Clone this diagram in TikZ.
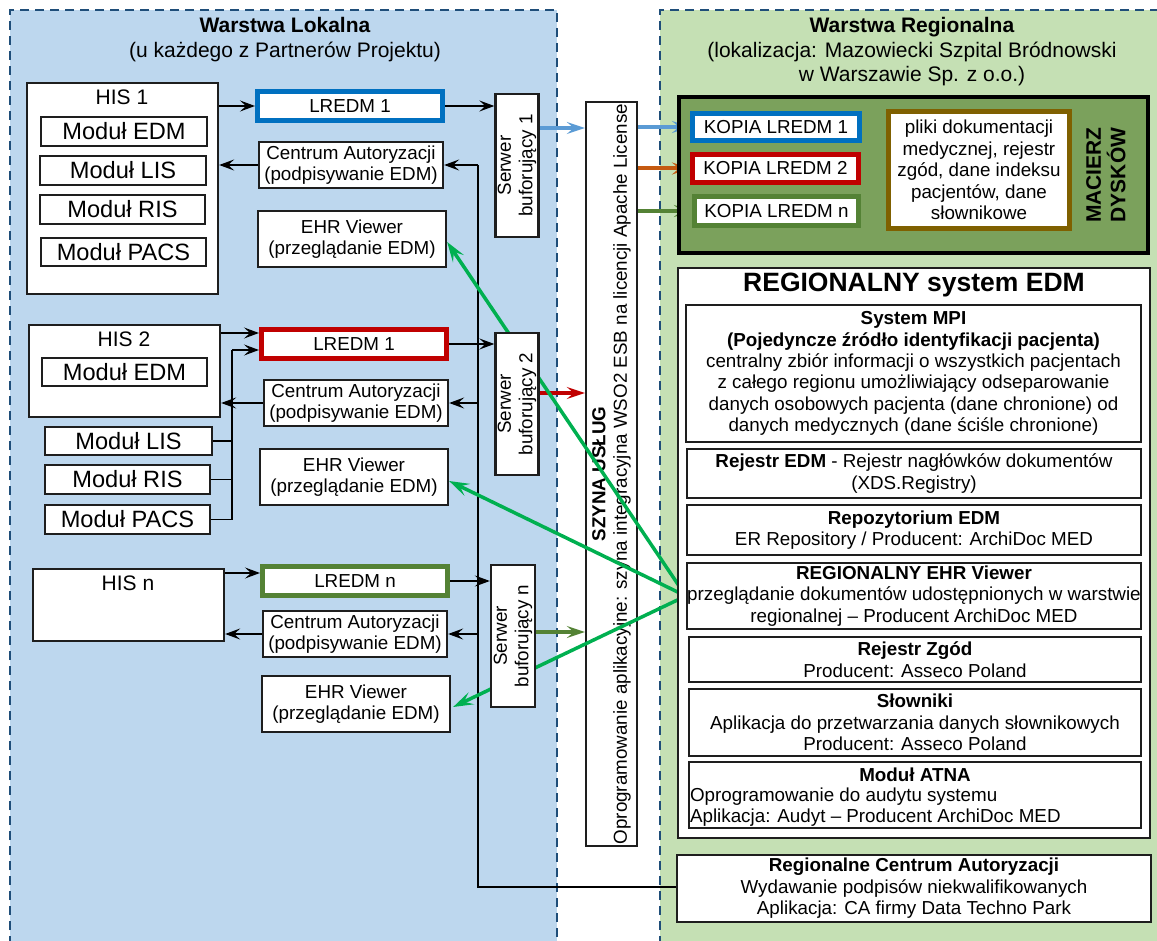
\documentclass[tikz,border=0pt]{standalone}
\usepackage{fontspec}
\setmainfont{Liberation Sans}
\usetikzlibrary{arrows.meta,calc}
\definecolor{bcol}{RGB}{30,30,30}
\definecolor{panB}{RGB}{189,215,238}
\definecolor{panG}{RGB}{197,224,180}
\definecolor{dashc}{RGB}{31,78,121}
\definecolor{lblue}{RGB}{0,112,192}
\definecolor{lred}{RGB}{192,0,0}
\definecolor{lgreen}{RGB}{84,130,53}
\definecolor{ablue}{RGB}{91,155,213}
\definecolor{aorange}{RGB}{197,90,17}
\definecolor{gline}{RGB}{0,176,80}
\definecolor{macf}{RGB}{123,161,92}
\definecolor{brownc}{RGB}{127,96,0}
\pgfdeclarelayer{bg}
\pgfdeclarelayer{lines}
\pgfsetlayers{bg,lines,main}
\newcommand\fn{\fontsize{18.8}{21.4}\selectfont}
\newcommand\fm{\fontsize{23.6}{27}\selectfont}
\newcommand\ft{\fontsize{21}{24.5}\selectfont}
\begin{document}
\begin{tikzpicture}[x=1pt,y=-1pt,
  bx/.style={draw=bcol, line width=2.3pt, fill=white, inner sep=0pt, align=center, font=\fn},
  mod/.style={bx, font=\fm},
  thk/.style={bx, line width=5pt},
  txt/.style={inner sep=0pt, align=center, font=\fn},
  arr/.style={line width=1.6pt, draw=black, -{Stealth[length=15pt,width=11pt,inset=6pt]}},
  pl/.style={line width=1.6pt, draw=black},
  carr/.style={line width=4pt, -{Stealth[length=18pt,width=12pt,inset=7pt]}},
  garr/.style={line width=3.5pt, draw=gline, -{Stealth[length=20pt,width=13pt,inset=8pt]}},
  pan/.style={dashc, line width=2pt, dash pattern=on 9pt off 6pt}
]
\useasboundingbox (0,0) rectangle (1157,941);

% ---------- panels ----------
\begin{pgfonlayer}{bg}
\fill[panB] (10,10) rectangle (557,960);
\draw[pan] (10,960) -- (10,10) -- (557,10) -- (557,960);
\fill[panG] (660,10) rectangle (1190,960);
\draw[pan] (660,960) -- (660,10) -- (1190,10);
\node[bx, minimum width=51pt, minimum height=744pt] (Bus) at (611.5,474) {};
\node[txt, rotate=90] (BusT) at (Bus.center) {\textbf{SZYNA USŁUG}\\Oprogramowanie aplikacyjne: szyna integracyjna WSO2 ESB na licencji Apache License};
\end{pgfonlayer}

% ---------- titles ----------
\node[txt, font=\ft] (tL) at (285,39.5) {\textbf{Warstwa Lokalna}\\(u każdego z Partnerów Projektu)};
\node[txt, font=\ft] (tR) at (912,52) {\textbf{Warstwa Regionalna}\\(lokalizacja: Mazowiecki Szpital Bródnowski\\w Warszawie Sp. z o.o.)};

% ---------- HIS 1 ----------
\node[bx, minimum width=191pt, minimum height=211pt] (HIS1) at (122.5,188.5) {};
\node[txt, font=\ft] (HIS1T) at (122,97) {HIS 1};
\node[mod, minimum width=166pt, minimum height=29pt] (M1a) at (124,131.5) {Moduł EDM};
\node[mod, minimum width=166pt, minimum height=29pt] (M1b) at (123,170.5) {Moduł LIS};
\node[mod, minimum width=165pt, minimum height=29pt] (M1c) at (122.5,209.5) {Moduł RIS};
\node[mod, minimum width=165pt, minimum height=28pt] (M1d) at (123.5,252) {Moduł PACS};
\node[thk, draw=lblue, minimum width=185pt, minimum height=29pt] (L1) at (350,106) {LREDM 1};
\node[bx, minimum width=43pt, minimum height=143pt] (S1) at (517,165.5) {};
\node[txt, rotate=90] (S1T) at (S1.center) {Serwer\\buforujący 1};
\node[bx, minimum width=184pt, minimum height=46pt] (CA1) at (351,165) {Centrum Autoryzacji\\(podpisywanie EDM)};
\node[bx, minimum width=188pt, minimum height=56pt] (E1) at (352,239) {EHR Viewer\\(przeglądanie EDM)};

% ---------- HIS 2 ----------
\node[bx, minimum width=191pt, minimum height=92pt] (HIS2) at (124.5,371) {};
\node[txt, font=\ft] (HIS2T) at (124,339) {HIS 2};
\node[mod, minimum width=165pt, minimum height=28pt] (M2a) at (124.5,372) {Moduł EDM};
\node[mod, minimum width=167pt, minimum height=28pt] (M2b) at (128.5,441) {Moduł LIS};
\node[mod, minimum width=165pt, minimum height=29pt] (M2c) at (127.5,479.5) {Moduł RIS};
\node[mod, minimum width=165pt, minimum height=29pt] (M2d) at (127.5,519.5) {Moduł PACS};
\node[thk, draw=lred, minimum width=185pt, minimum height=29pt] (L2) at (354,344) {LREDM 1};
\node[bx, minimum width=43pt, minimum height=142pt] (S2) at (517,404) {};
\node[txt, rotate=90] (S2T) at (S2.center) {Serwer\\buforujący 2};
\node[bx, minimum width=184pt, minimum height=46pt] (CA2) at (356,403) {Centrum Autoryzacji\\(podpisywanie EDM)};
\node[bx, minimum width=188pt, minimum height=56pt] (E2) at (354,477) {EHR Viewer\\(przeglądanie EDM)};

% ---------- HIS n ----------
\node[bx, minimum width=191pt, minimum height=72pt] (HISn) at (128.5,605) {};
\node[txt, font=\ft] (HISnT) at (128,583) {HIS n};
\node[thk, draw=lgreen, minimum width=185pt, minimum height=29pt] (Ln) at (355,581) {LREDM n};
\node[bx, minimum width=44pt, minimum height=142pt] (Sn) at (513,636) {};
\node[txt, rotate=90] (SnT) at (Sn.center) {Serwer\\buforujący n};
\node[bx, minimum width=184pt, minimum height=46pt] (CAn) at (355,634) {Centrum Autoryzacji\\(podpisywanie EDM)};
\node[bx, minimum width=188pt, minimum height=56pt] (En) at (356,704) {EHR Viewer\\(przeglądanie EDM)};

% ---------- disk array ----------
\node[draw=black, line width=4pt, fill=macf, minimum width=469pt, minimum height=156pt, inner sep=0pt] (MAC) at (913.5,175) {};
\node[thk, draw=lblue, minimum width=167pt, minimum height=27pt] (K1) at (776,127) {KOPIA LREDM 1};
\node[thk, draw=lred, minimum width=166pt, minimum height=28pt] (K2) at (775.5,168.5) {KOPIA LREDM 2};
\node[thk, draw=lgreen, minimum width=164pt, minimum height=29pt] (Kn) at (776.5,211) {KOPIA LREDM n};
\node[thk, draw=brownc, minimum width=181pt, minimum height=117pt] (BR) at (979,170) {pliki dokumentacji\\medycznej, rejestr\\zgód, dane indeksu\\pacjentów, dane\\słownikowe};
\node[txt, rotate=90, font=\bfseries\ft] (MACT) at (1106,175) {MACIERZ\\DYSKÓW};

% ---------- regional EDM ----------
\node[bx, minimum width=472pt, minimum height=570pt] (REG) at (914,553) {};
\node[txt, font=\bfseries\fontsize{26.5}{30}\selectfont] (REGT) at (914,285) {REGIONALNY system EDM};
\node[bx, minimum width=455pt, minimum height=137pt] (MPI) at (913.5,373.5) {\textbf{System MPI}\\\textbf{(Pojedyncze źródło identyfikacji pacjenta)}\\centralny zbiór informacji o wszystkich pacjentach\\z całego regionu umożliwiający odseparowanie\\danych osobowych pacjenta (dane chronione) od\\danych medycznych (dane ściśle chronione)};
\node[bx, minimum width=454pt, minimum height=49pt] (RE) at (914,473.5) {\textbf{Rejestr EDM} - Rejestr nagłówków dokumentów\\(XDS.Registry)};
\node[bx, minimum width=454pt, minimum height=50pt] (RP) at (914,530) {\textbf{Repozytorium EDM}\\ER Repository / Producent: ArchiDoc MED};
\node[bx, minimum width=454pt, minimum height=66pt] (RV) at (914,596) {\textbf{REGIONALNY EHR Viewer}\\przeglądanie dokumentów udostępnionych w warstwie\\regionalnej – Producent ArchiDoc MED};
\node[bx, minimum width=452pt, minimum height=45pt] (RZ) at (915,659.5) {\textbf{Rejestr Zgód}\\Producent: Asseco Poland};
\node[bx, minimum width=452pt, minimum height=67pt] (SL) at (915,722.5) {\textbf{Słowniki}\\Aplikacja do przetwarzania danych słownikowych\\Producent: Asseco Poland};
\node[bx, minimum width=452pt, minimum height=66pt] (AT) at (915,795) {};
\node[txt, font=\bfseries\fn] (ATT) at (915,775) {Moduł ATNA};
\node[txt, anchor=west, align=left] (ATB) at ([xshift=2pt,yshift=-12pt]AT.west) {Oprogramowanie do audytu systemu\\Aplikacja: Audyt – Producent ArchiDoc MED};
\node[bx, minimum width=474pt, minimum height=67pt] (RCA) at (914,888.5) {\textbf{Regionalne Centrum Autoryzacji}\\Wydawanie podpisów niekwalifikowanych\\Aplikacja: CA firmy Data Techno Park};

% ---------- connectors ----------
\begin{pgfonlayer}{lines}
\coordinate (bl) at (478,887);
\draw[pl] (bl |- CA1.east) -- (bl) -- (bl -| RCA.west);
\draw[arr] (bl |- CA1.east) -- (CA1.east);
\draw[arr] (bl |- CA2.east) -- (CA2.east);
\draw[arr] (bl |- CAn.east) -- (CAn.east);

\draw[arr] (HIS1.east |- L1.west) -- (L1.west);
\draw[arr] (L1.east) -- (L1.east -| S1.west);
\draw[arr] (CA1.west) -- (CA1.west -| HIS1.east);

\coordinate (h2) at (0,333);
\draw[arr] (HIS2.east |- h2) -- (L2.west |- h2);
\coordinate (vm) at (232,350);
\draw[pl] (M2b.east) -- (vm |- M2b.east);
\draw[pl] (M2c.east) -- (vm |- M2c.east);
\draw[pl] (M2d.east) -- (vm |- M2d.east) -- (vm);
\draw[arr] (vm) -- (L2.west |- vm);
\draw[arr] (L2.east) -- (L2.east -| S2.west);
\draw[arr] (CA2.west) -- (CA2.west -| HIS2.east);

\coordinate (hn) at (0,573);
\draw[arr] (HISn.east |- hn) -- (Ln.west |- hn);
\draw[arr] (Ln.east) -- (Ln.east -| Sn.west);
\draw[arr] (CAn.west) -- (CAn.west -| HISn.east);

\coordinate (c1) at (0,128);
\draw[carr, ablue] (S1.east |- c1) -- (Bus.west |- c1);
\draw[carr, ablue] (Bus.east |- K1.west) -- (K1.west);
\coordinate (c2) at (0,393);
\draw[carr, lred] (S2.east |- c2) -- (Bus.west |- c2);
\draw[carr, aorange] (Bus.east |- K2.west) -- (K2.west);
\coordinate (c3) at (0,632);
\draw[carr, lgreen] (Sn.east |- c3) -- (Bus.west |- c3);
\draw[carr, lgreen] (Bus.east |- Kn.west) -- (Kn.west);

\draw[garr] (RV.west) -- ([yshift=-3pt]E1.east);
\draw[garr] (RV.west) -- ([yshift=-4pt]E2.east);
\draw[garr] (RV.west) -- ([xshift=2pt,yshift=-3pt]En.east);
\end{pgfonlayer}
\end{tikzpicture}
\end{document}
